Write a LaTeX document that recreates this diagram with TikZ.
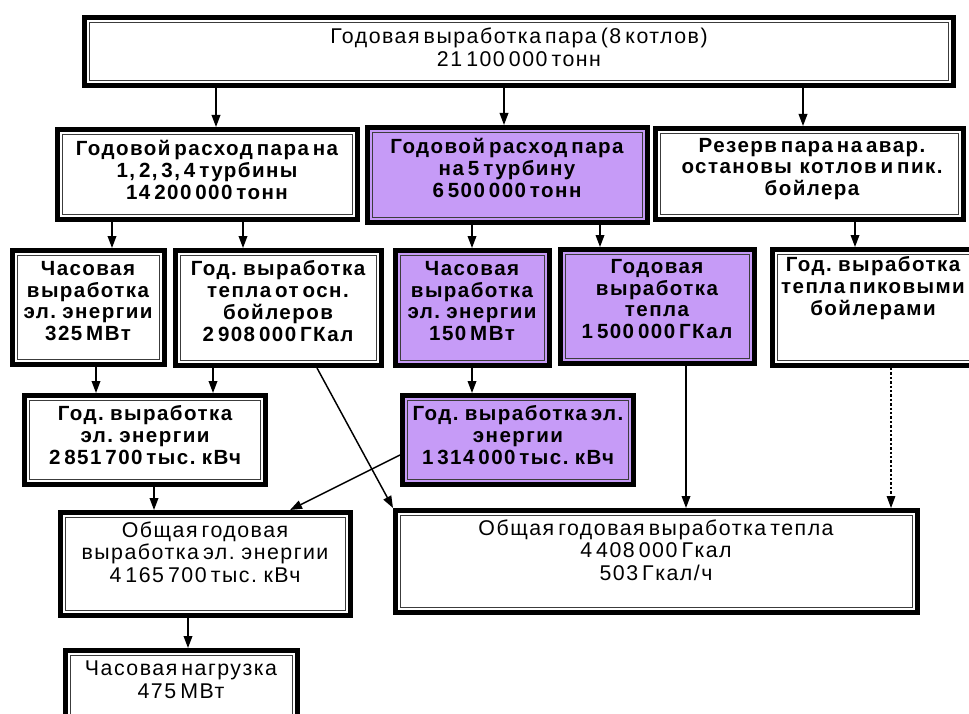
\documentclass[tikz,border=0pt]{standalone}
\usepackage{fontspec}
\setmainfont{Liberation Sans}[LetterSpace=7, WordSpace=0.55]
\usetikzlibrary{arrows.meta,fit}
\definecolor{lilac}{HTML}{C69BF7}
\definecolor{innergray}{HTML}{3C3C3C}
\tikzset{
  frame/.style={draw=black, line width=3.75pt, inner sep=0pt, fill=white},
  lilacframe/.style={frame, fill=lilac},
  innerframe/.style={draw=innergray, line width=0.9pt},
  lbl/.style={align=center, inner sep=0pt, font=\fontsize{15.4}{16.4}\selectfont\bfseries},
  lblr/.style={align=center, inner sep=0pt, font=\fontsize{16}{17}\selectfont},
  arr/.style={line width=1.1pt, -{Triangle[length=9pt,width=6.5pt]}},
  dotarr/.style={arr, line width=0.8pt, dash pattern=on 1.8pt off 1.5pt},
}
\newcommand\mybox[6]{%
  \node[#6, fit={({#2+2.5},{#3+2.5}) ({#4-2.5},{#5-2.5})}] (#1) {};
  \draw[innerframe] ([shift={(5.6pt,-5.6pt)}]#1.north west) rectangle ([shift={(-5.6pt,5.6pt)}]#1.south east);
}
\begin{document}
\begin{tikzpicture}[x=0.75pt,y=-0.75pt]
\useasboundingbox (0,0) rectangle (969,713);
\clip (0,0) rectangle (969,713);
% boxes
\mybox{T}{82}{15}{956}{88}{frame}
\mybox{A}{55}{127}{360}{222}{frame}
\mybox{B}{365}{125}{650}{225}{lilacframe}
\mybox{C}{653}{126}{966}{222}{frame}
\mybox{D}{10}{248}{167}{367}{frame}
\mybox{E}{173}{248}{384}{368}{frame}
\mybox{F}{393}{248}{552}{368}{lilacframe}
\mybox{G}{558}{247}{757}{366}{lilacframe}
\mybox{H}{770}{247}{985}{368}{frame}
\mybox{I}{22}{393}{268}{487}{frame}
\mybox{J}{400}{393}{636}{487}{lilacframe}
\mybox{K}{58}{510}{353}{618}{frame}
\mybox{L}{393}{508}{920}{615}{frame}
\mybox{M}{63}{648}{300}{730}{frame}
% texts
\node[lblr] (tT) at (519,47) {Годовая выработка пара (8 котлов)\\21 100 000 тонн};
\node[lbl] (tA) at (207,170) {Годовой расход пара на\\1, 2, 3, 4 турбины\\14 200 000 тонн};
\node[lbl] (tB) at (507,168) {Годовой расход пара\\на 5 турбину\\6 500 000 тонн};
\node[lbl] (tC) at (812,169) {Резерв пара на авар.\\остановы~ котлов и пик.\\бойлера};
\node[lbl] (tD) at (88,301) {Часовая\\выработка\\эл. энергии\\325 МВт};
\node[lbl] (tE) at (278,301) {Год. выработка\\тепла от осн.\\бойлеров\\2 908 000 ГКал};
\node[lbl] (tF) at (472,301) {Часовая\\выработка\\эл. энергии\\150 МВт};
\node[lbl] (tG) at (657,299) {Годовая\\выработка\\тепла\\1 500 000 ГКал};
\node[lbl] (tH) at (873,288) {Год. выработка\\тепла пиковыми\\бойлерами};
\node[lbl] (tI) at (145,435) {Год. выработка\\эл. энергии\\2 851 700 тыс. кВч};
\node[lbl] (tJ) at (518,435) {Год. выработка эл.\\энергии\\1 314 000 тыс. кВч};
\node[lblr] (tK) at (205,552) {Общая годовая\\выработка эл. энергии\\4 165 700 тыс. кВч};
\node[lblr] (tL) at (656,550) {Общая годовая выработка тепла\\4 408 000 Гкал\\503 Гкал/ч};
\node[lblr] (tM) at (181,680) {Часовая нагрузка\\475 МВт};
% connectors
\draw[arr] (T.south -| 216,0) -- (A.north -| 216,0);
\draw[arr] (T.south -| 504,0) -- (B.north -| 504,0);
\draw[arr] (T.south -| 803,0) -- (C.north -| 803,0);
\draw[arr] (A.south -| 112,0) -- (D.north -| 112,0);
\draw[arr] (A.south -| 243,0) -- (E.north -| 243,0);
\draw[arr] (B.south -| 472,0) -- (F.north -| 472,0);
\draw[arr] (B.south -| 600,0) -- (G.north -| 600,0);
\draw[arr] (C.south -| 855,0) -- (H.north -| 855,0);
\draw[arr] (D.south -| 96,0) -- (I.north -| 96,0);
\draw[arr] (E.south -| 213,0) -- (I.north -| 213,0);
\draw[arr] (F.south -| 472,0) -- (J.north -| 472,0);
\draw[arr] (I.south -| 154,0) -- (K.north -| 154,0);
\draw[arr] (K.south -| 188,0) -- (M.north -| 188,0);
\draw[arr] (G.south -| 686,0) -- (L.north -| 686,0);
\draw[dotarr] (H.south -| 891,0) -- (L.north -| 891,0);
\draw[arr] (E.south -| 317,0) -- (L.north west);
\draw[arr] (J.west |- 0,455) -- (K.north -| 290,0);
\end{tikzpicture}
\end{document}
